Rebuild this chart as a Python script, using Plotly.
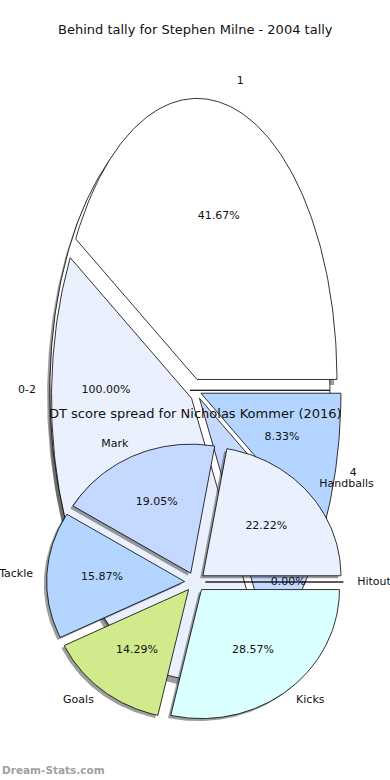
import numpy as np
import plotly.graph_objects as go

# ---------------- data ----------------
# Chart 1 (two pies drawn on the same axes)
p0_labels = ["0-2"]
p0_values = [1]
p0_pct = ["100.00%"]
p1_labels = ["1", "2", "3", "4"]
p1_values = [5, 5, 1, 1]
p1_pct = ["41.67%", "41.67%", "8.33%", "8.33%"]
title1 = "Behind tally for Stephen Milne - 2004 tally"

# Chart 2
p2_labels = ["Hitout", "Handballs", "Mark", "Tackle", "Goals", "Kicks"]
p2_values = [0, 14, 12, 10, 9, 18]
p2_pct = ["0.00%", "22.22%", "19.05%", "15.87%", "14.29%", "28.57%"]
title2 = "DT score spread for Nicholas Kommer (2016)"

palette = ["#ffffff", "#eaf0fe", "#c5d8ff", "#b3d5ff", "#d1ea8c", "#d9ffff"]
watermark = "Dream-Stats.com"

W, H = 390, 780
FONT = "DejaVu Sans"


def wedges(values, explode, start=0.0):
    vals = np.asarray(values, dtype=float)
    tot = vals.sum()
    out = []
    t = start
    for v in vals:
        d = 360.0 * v / tot
        t1, t2 = t, t + d
        mid = np.deg2rad((t1 + t2) / 2)
        cx, cy = explode * np.cos(mid), explode * np.sin(mid)
        n = max(2, int(abs(d) / 1.0) + 2)
        th = np.deg2rad(np.linspace(t1, t2, n))
        xs = np.concatenate([[cx], cx + np.cos(th), [cx]])
        ys = np.concatenate([[cy], cy + np.sin(th), [cy]])
        out.append(dict(x=xs, y=ys, cx=cx, cy=cy, mid=mid))
        t = t2
    return out


fig = go.Figure()


def add_pie(groups, xa, ya, shadow=(-0.02, -0.02)):
    # shadows first
    for ws, cols in groups:
        for w, c in zip(ws, cols):
            fig.add_trace(go.Scatter(
                x=w["x"] + shadow[0], y=w["y"] + shadow[1], mode="lines",
                fill="toself", fillcolor="rgba(60,60,60,0.5)",
                line=dict(width=0), hoverinfo="skip", showlegend=False,
                xaxis=xa, yaxis=ya))
    for ws, cols in groups:
        for w, c in zip(ws, cols):
            fig.add_trace(go.Scatter(
                x=w["x"], y=w["y"], mode="lines", fill="toself", fillcolor=c,
                line=dict(color="black", width=0.8), hoverinfo="skip",
                showlegend=False, xaxis=xa, yaxis=ya))


def add_texts(ws, labels, pcts, xa, ya, size=11):
    for w, lab, pct in zip(ws, labels, pcts):
        lx = w["cx"] + 1.1 * np.cos(w["mid"])
        ly = w["cy"] + 1.1 * np.sin(w["mid"])
        pos = "middle right" if lx > 0 else "middle left"
        fig.add_trace(go.Scatter(
            x=[lx], y=[ly], mode="text", text=[lab], textposition=pos,
            textfont=dict(family=FONT, size=size, color="#111"),
            hoverinfo="skip", showlegend=False, xaxis=xa, yaxis=ya))
        px = w["cx"] + 0.6 * np.cos(w["mid"])
        py = w["cy"] + 0.6 * np.sin(w["mid"])
        fig.add_trace(go.Scatter(
            x=[px], y=[py], mode="text", text=[pct], textposition="middle center",
            textfont=dict(family=FONT, size=size, color="#111"),
            hoverinfo="skip", showlegend=False, xaxis=xa, yaxis=ya))


# chart 1
w0 = wedges(p0_values, 0.04, start=0)
w1 = wedges(p1_values, 0.04, start=0)
add_pie([(w0, palette[:1]), (w1, palette[:4])], "x", "y")
add_texts(w0, p0_labels, p0_pct, "x", "y")
add_texts(w1, p1_labels, p1_pct, "x", "y")

# chart 2
w2 = wedges(p2_values, 0.075, start=0)
add_pie([(w2, palette[:6])], "x2", "y2")
add_texts(w2, p2_labels, p2_pct, "x2", "y2")

# axes: pixel geometry of each pie (centre and radii in px)
c1x, c1y, r1x, r1y = 195.5, 390.3, 140.0, 281.0
c2x, c2y, r2x, r2y = 195.0, 582.0, 138.0, 129.0

ax_common = dict(visible=False, showgrid=False, zeroline=False, fixedrange=True)
fig.update_layout(
    width=W, height=H,
    margin=dict(l=0, r=0, t=0, b=0),
    paper_bgcolor="white", plot_bgcolor="rgba(0,0,0,0)",
    xaxis=dict(domain=[0, 1], range=[-c1x / r1x, (W - c1x) / r1x], **ax_common),
    yaxis=dict(domain=[0, 1], range=[-(H - c1y) / r1y, c1y / r1y], **ax_common),
    xaxis2=dict(domain=[0, 1], anchor="y2", range=[-c2x / r2x, (W - c2x) / r2x], **ax_common),
    yaxis2=dict(domain=[0, 1], anchor="x2", range=[-(H - c2y) / r2y, c2y / r2y], **ax_common),
    annotations=[
        dict(text=title1, x=0.5, y=1 - 30 / H, xref="paper", yref="paper",
             showarrow=False, font=dict(family=FONT, size=13, color="#111"),
             xanchor="center", yanchor="middle"),
        dict(text=title2, x=0.5, y=1 - 413 / H, xref="paper", yref="paper",
             showarrow=False, font=dict(family=FONT, size=13, color="#111"),
             xanchor="center", yanchor="middle"),
        dict(text="<b>" + watermark + "</b>", x=0, y=1 - 770 / H, xref="paper", yref="paper",
             showarrow=False, font=dict(family=FONT, size=10.5, color="#a0a0a0"),
             xanchor="left", yanchor="middle"),
    ],
)

fig.write_html("out.html", config={"displayModeBar": False},
               post_script="document.body.style.margin='0';document.body.style.overflow='hidden';")
